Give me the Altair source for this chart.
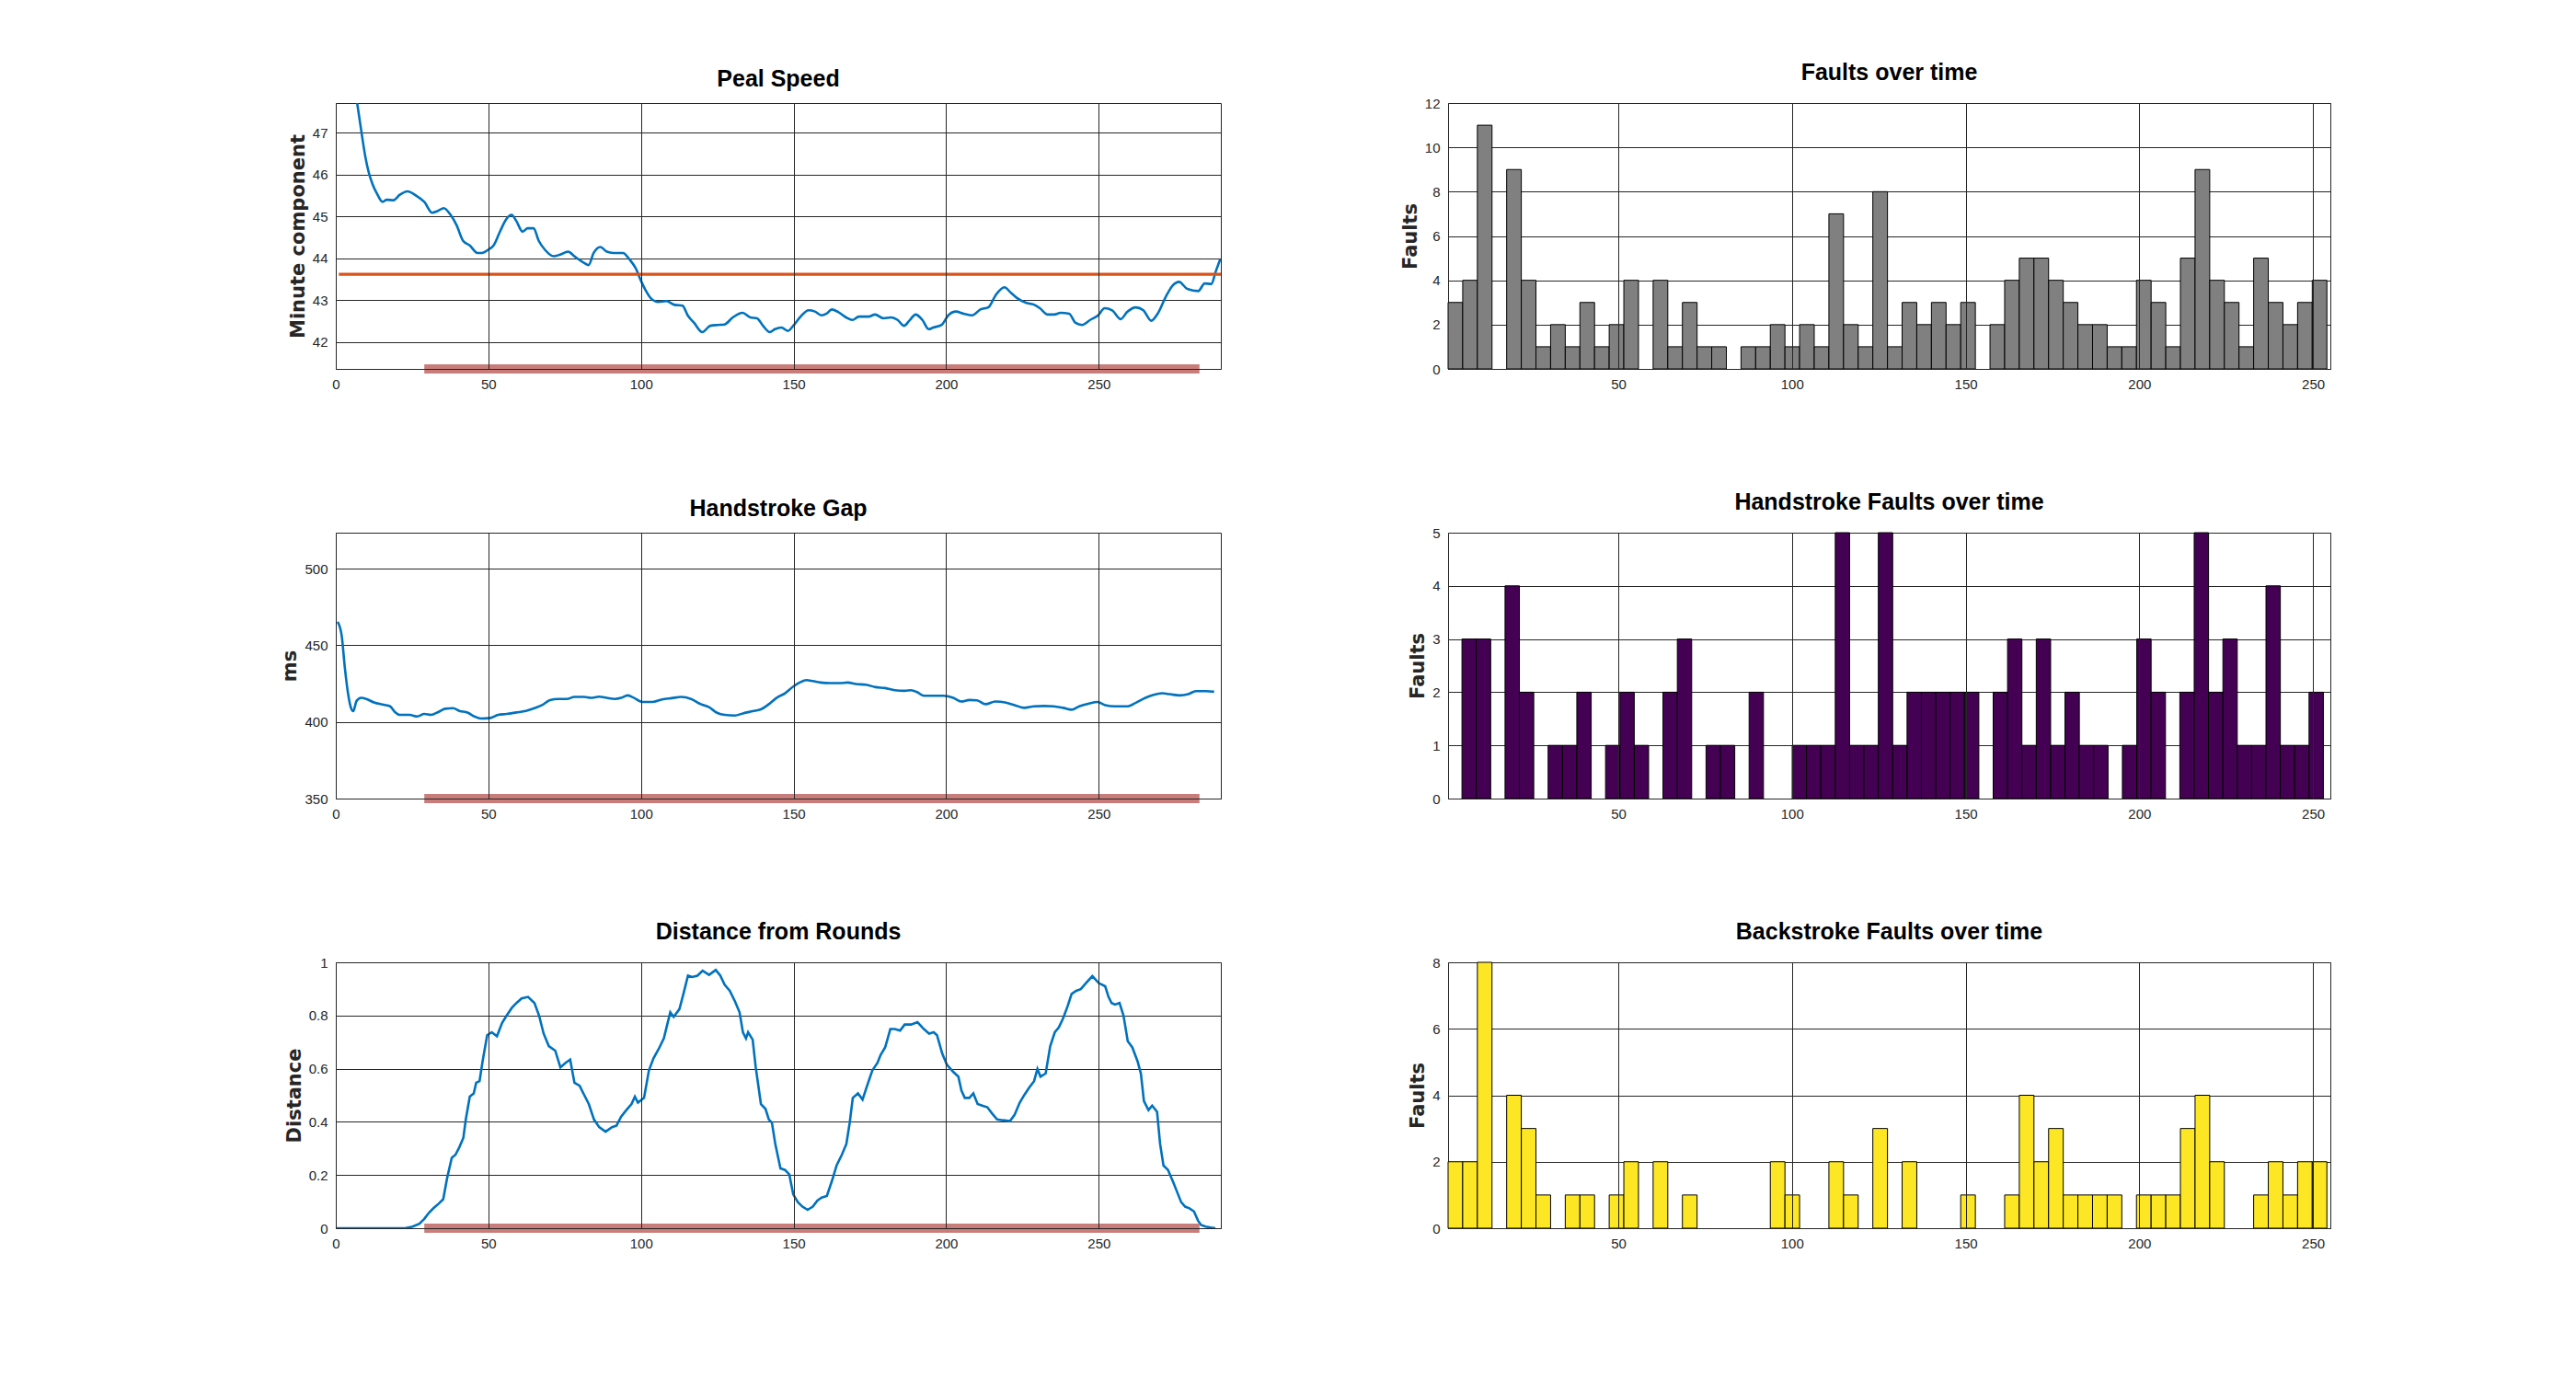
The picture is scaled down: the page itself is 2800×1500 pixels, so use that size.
import altair as alt
import pandas as pd

# ---------------- data ----------------
# Peal speed (minute component)
PEAL_X = [7, 8.3, 9.7, 10.8, 12.1, 13.6, 15.3, 16.7, 18.9, 21, 23.5, 26.3, 29, 31.6, 33.3, 35.4,
          37.5, 39.6, 41.7, 43.9, 46.4, 47.9, 50, 51.7, 53.8, 55.9, 57.6, 59.1, 61.2, 62.9, 64.8,
          66.5, 68.6, 71.4, 73.5, 76.1, 78.2, 81.4, 82.8, 84.5, 86.7, 88.8, 90.9, 94.1, 96.2, 98.3,
          99.8, 101.5, 103.2, 105.7, 108.3, 111, 113.6, 115.3, 117.4, 120.1, 122.7, 125.2, 127.3,
          130.1, 133.3, 135.8, 138, 140, 142.2, 143.9, 146, 148.1, 150.2, 152.3, 154.9, 157, 159.1,
          160.8, 162.5, 164.6, 167.2, 169.3, 171.4, 174.6, 176.7, 179.4, 182, 184.1, 186.2, 187.9,
          190, 192.2, 194.3, 195.8, 198.5, 200.7, 203.2, 205.7, 208.5, 211.2, 213.8, 216.3, 219.1,
          221.2, 223.3, 226.1, 228.6, 230.7, 233.3, 235.4, 237.5, 240.3, 242.4, 244.5, 247.2, 249.8,
          251.9, 254.4, 257.2, 259.3, 262.1, 264.6, 267.2, 269.3, 272, 274.2, 276.3, 279, 282.6,
          284.7, 286.9, 288.3, 289.8]
PEAL_Y = [47.71, 47.07, 46.42, 46.05, 45.76, 45.53, 45.35, 45.40, 45.39, 45.52, 45.60, 45.50, 45.35,
          45.09, 45.13, 45.20, 45.05, 44.79, 44.42, 44.31, 44.13, 44.13, 44.21, 44.31, 44.64, 44.94,
          45.04, 44.90, 44.64, 44.72, 44.72, 44.42, 44.20, 44.05, 44.09, 44.16, 44.05, 43.89, 43.84,
          44.13, 44.27, 44.16, 44.13, 44.13, 43.98, 43.76, 43.50, 43.24, 43.05, 42.96, 42.98, 42.89,
          42.87, 42.64, 42.46, 42.24, 42.39, 42.41, 42.42, 42.59, 42.70, 42.59, 42.57, 42.39, 42.24,
          42.31, 42.35, 42.27, 42.42, 42.61, 42.76, 42.73, 42.64, 42.68, 42.78, 42.72, 42.59, 42.53,
          42.61, 42.61, 42.66, 42.57, 42.59, 42.53, 42.39, 42.51, 42.66, 42.53, 42.31, 42.35, 42.41,
          42.64, 42.73, 42.68, 42.64, 42.78, 42.83, 43.13, 43.31, 43.18, 43.05, 42.94, 42.90, 42.81,
          42.66, 42.66, 42.70, 42.68, 42.46, 42.41, 42.53, 42.64, 42.81, 42.76, 42.55, 42.72, 42.83,
          42.76, 42.51, 42.68, 43.09, 43.35, 43.44, 43.27, 43.22, 43.40, 43.39, 43.68, 43.98]
PEAL_MEAN = 43.62
MEAN_X = [1, 290]
PEAL_YDOMAIN = [41.36, 47.71]
PEAL_YTICKS = [42, 43, 44, 45, 46, 47]

# Handstroke gap (ms)
HG_X = [0.6, 1.9, 3, 4, 4.9, 5.7, 6.8, 8.3, 10, 12.5, 15.7, 17.8, 19.3, 21, 24.2, 26.7, 29, 31.2,
        33.7, 35.8, 38.4, 40.5, 43.3, 45.4, 47.5, 50.7, 53.2, 56, 59.2, 62.3, 65.1, 67.6, 70.2,
        72.9, 75.7, 78.2, 81.4, 83.5, 86.3, 88.8, 91.4, 93.5, 95.6, 97.3, 100.5, 103.7, 106.9, 110,
        113.2, 116.4, 119.6, 122.3, 124.9, 127.4, 130.8, 133.4, 136.6, 139.3, 141.9, 144.4, 147.2,
        149.9, 152, 154.2, 156.3, 158.8, 162, 165.2, 167.7, 170.5, 173.7, 176.8, 180, 183.2, 186.4,
        188.5, 190.6, 192.7, 195.9, 199.1, 202.3, 205, 207.6, 210.1, 212.9, 216.1, 219.3, 222.4,
        225.6, 228.8, 232, 235.2, 238.3, 241.1, 243.6, 246.8, 249.6, 252.1, 255.3, 259.5, 262.3,
        265.3, 268, 270.8, 273.3, 276.5, 279.3, 281.8, 285, 287.8]
HG_Y = [465.3, 456.8, 434.7, 418.7, 409.6, 407.0, 413.7, 415.7, 415.0, 412.7, 411.2, 410.2, 406.6,
        404.6, 404.6, 403.6, 405.2, 404.6, 406.6, 408.6, 409.0, 407.2, 406.0, 403.6, 402.2, 402.6,
        404.6, 405.2, 406.2, 407.2, 409.0, 411.0, 414.3, 415.0, 415.0, 416.3, 416.3, 415.7, 416.5,
        415.7, 415.0, 415.7, 417.3, 416.1, 413.0, 413.0, 414.7, 415.5, 416.3, 415.0, 411.6, 409.6,
        406.0, 404.6, 404.2, 405.6, 407.0, 408.2, 411.6, 415.7, 418.7, 423.1, 425.7, 427.3, 426.7,
        425.7, 425.3, 425.3, 425.7, 424.7, 424.3, 422.7, 422.1, 420.7, 420.3, 420.7, 419.3, 417.1,
        417.1, 417.1, 415.7, 413.3, 414.3, 414.1, 411.6, 413.3, 412.7, 411.0, 409.2, 410.2, 410.4,
        410.2, 409.2, 408.0, 410.2, 412.0, 413.0, 411.0, 410.2, 410.2, 412.7, 415.7, 417.7, 418.7,
        418.1, 417.3, 418.1, 420.1, 420.1, 419.7]
HG_YDOMAIN = [350, 523.5]
HG_YTICKS = [350, 400, 450, 500]

# Distance from rounds
DR_X = [0, 22.7, 25.2, 27.4, 29, 30.5, 32, 33.7, 35.2, 36.5, 38, 39.2, 40.5, 41.8, 42.6, 43.9, 45.2,
        46, 47.1, 48.1, 49.6, 51.1, 52.8, 54.5, 56, 57.7, 59.2, 60.9, 63, 65.1, 66.6, 68.1, 69.8,
        71.9, 73.6, 75.3, 76.8, 78.2, 79.9, 81.4, 82.9, 84.6, 86.3, 88.4, 90.5, 92, 93.5, 95.2,
        96.9, 98, 99, 101, 102.6, 104.1, 105.8, 107.5, 108.6, 109.6, 110.7, 112.6, 113.9, 115.4,
        116.8, 118.5, 120.2, 122.3, 124.5, 126, 127.4, 129.1, 130.8, 132.3, 133.4, 134.4, 135.1,
        136.6, 137.6, 139.3, 140.8, 141.9, 142.9, 144, 145.7, 147.2, 148.6, 149.9, 151.4, 152.9,
        154.6, 156.3, 157.8, 159.2, 160.9, 162.6, 164.1, 165.8, 167.3, 168.4, 169.4, 171.1, 172.6,
        174.1, 175.8, 177.5, 178.5, 180, 181.7, 183.2, 184.9, 186.4, 188.5, 190.6, 192.7, 194.4,
        195.9, 197, 198.7, 200.2, 202.3, 204, 205, 206.1, 207.6, 208.9, 210.3, 211.8, 213.5, 215,
        216.7, 218.6, 220.9, 222.4, 224.1, 225.6, 227.3, 228.8, 229.9, 230.9, 232.6, 234.1, 235.6,
        236.9, 238.3, 239.8, 241.1, 242.6, 244.1, 245.8, 247.9, 250, 252.1, 253.2, 254.2, 255.3,
        256.8, 258.1, 259.5, 261, 262.7, 263.8, 264.8, 266.3, 267.5, 269.1, 270.1, 271.2, 272.7,
        274.4, 275.4, 277, 278.3, 279.7, 281.2, 282.5, 283.5, 285, 287.1, 288.2]
DR_Y = [0, 0, 0.006, 0.017, 0.035, 0.058, 0.075, 0.092, 0.109, 0.19, 0.265, 0.276, 0.305, 0.34,
        0.409, 0.495, 0.507, 0.547, 0.553, 0.628, 0.726, 0.737, 0.722, 0.772, 0.8, 0.829, 0.847,
        0.864, 0.87, 0.847, 0.8, 0.732, 0.685, 0.668, 0.605, 0.622, 0.634, 0.547, 0.536, 0.501,
        0.467, 0.409, 0.38, 0.363, 0.38, 0.386, 0.42, 0.444, 0.467, 0.495, 0.472, 0.49, 0.593,
        0.639, 0.674, 0.714, 0.766, 0.812, 0.795, 0.824, 0.881, 0.95, 0.945, 0.95, 0.968, 0.953,
        0.971, 0.95, 0.916, 0.893, 0.853, 0.812, 0.737, 0.714, 0.737, 0.709, 0.605, 0.467, 0.449,
        0.409, 0.397, 0.317, 0.225, 0.219, 0.202, 0.127, 0.098, 0.081, 0.069, 0.081, 0.104, 0.115,
        0.121, 0.179, 0.236, 0.276, 0.317, 0.397, 0.49, 0.507, 0.484, 0.536, 0.593, 0.622, 0.651,
        0.68, 0.749, 0.749, 0.743, 0.766, 0.766, 0.775, 0.749, 0.732, 0.737, 0.726, 0.657, 0.616,
        0.588, 0.57, 0.518, 0.49, 0.49, 0.507, 0.467, 0.461, 0.455, 0.432, 0.409, 0.406, 0.403,
        0.426, 0.472, 0.501, 0.53, 0.553, 0.599, 0.57, 0.582, 0.685, 0.737, 0.755, 0.789, 0.835,
        0.881, 0.893, 0.899, 0.922, 0.948, 0.922, 0.91, 0.87, 0.847, 0.841, 0.847, 0.8, 0.703,
        0.68, 0.628, 0.582, 0.478, 0.444, 0.461, 0.438, 0.317, 0.236, 0.219, 0.173, 0.144, 0.098,
        0.081, 0.075, 0.063, 0.029, 0.012, 0.006, 0.002, 0]
DR_YDOMAIN = [0, 1]
DR_YTICKS = [0, 0.2, 0.4, 0.6, 0.8, 1]

LINE_XDOMAIN = [0, 290]
LINE_XTICKS = [0, 50, 100, 150, 200, 250]
ROUNDS_START = 29
ROUNDS_END = 283

# Fault histograms (60 bins each)
HIST_XDOMAIN = [1, 255]
HIST_XTICKS = [50, 100, 150, 200, 250]
N_BINS = 60
FAULTS_RANGE = [1, 254]
FAULTS = [3, 4, 11, 0, 9, 4, 1, 2, 1, 3, 1, 2, 4, 0, 4, 1, 3, 1, 1, 0,
          1, 1, 2, 1, 2, 1, 7, 2, 1, 8, 1, 3, 2, 3, 2, 3, 0, 2, 4, 5,
          5, 4, 3, 2, 2, 1, 1, 4, 3, 1, 5, 9, 4, 3, 1, 5, 3, 2, 3, 4]
FAULTS_YTICKS = [0, 2, 4, 6, 8, 10, 12]
HAND_RANGE = [5, 253]
HAND = [3, 3, 0, 4, 2, 0, 1, 1, 2, 0, 1, 2, 1, 0, 2, 3, 0, 1, 1, 0,
        2, 0, 0, 1, 1, 1, 5, 1, 1, 5, 1, 2, 2, 2, 2, 2, 0, 2, 3, 1,
        3, 1, 2, 1, 1, 0, 1, 3, 2, 0, 2, 5, 2, 3, 1, 1, 4, 1, 1, 2]
HAND_YTICKS = [0, 1, 2, 3, 4, 5]
BACK_RANGE = [1, 254]
BACK = [2, 2, 8, 0, 4, 3, 1, 0, 1, 1, 0, 1, 2, 0, 2, 0, 1, 0, 0, 0,
        0, 0, 2, 1, 0, 0, 2, 1, 0, 3, 0, 2, 0, 0, 0, 1, 0, 0, 1, 4,
        2, 3, 1, 1, 1, 1, 0, 1, 1, 1, 3, 4, 2, 0, 0, 1, 2, 1, 2, 2]
BACK_YTICKS = [0, 2, 4, 6, 8]

# ---------------- styling ----------------
W_LEFT, W_RIGHT, H = 962, 959, 289
DARK = "#262626"
BLUE = "#0072bd"
ORANGE = "#d95319"
PINK = "#c97d7a"
TICK_FONT = "Liberation Sans"
YT_FONT = "DejaVu Sans"


def x_axis(ticks):
    return alt.Axis(values=ticks, grid=True, gridColor=DARK, gridWidth=1, gridOpacity=1,
                    ticks=False, domain=True, domainColor=DARK, domainWidth=1, zindex=1,
                    labelFont=TICK_FONT, labelFontSize=15, labelColor=DARK, labelPadding=9,
                    labelFlush=False, title=None)


def y_axis(ticks, title, fmt=None):
    kw = dict(values=ticks, grid=True, gridColor=DARK, gridWidth=1, gridOpacity=1,
              ticks=False, domain=False, labelFont=TICK_FONT, labelFontSize=15,
              labelColor=DARK, labelPadding=9, title=title, titleFont=YT_FONT,
              titleFontSize=21, titleFontWeight="bold", titleColor=DARK, titlePadding=5)
    if fmt:
        kw["format"] = fmt
    return alt.Axis(**kw)


def panel_title(text):
    return alt.TitleParams(text=text, font="Liberation Sans", fontSize=25, fontWeight="bold",
                           color="black", anchor="middle", baseline="alphabetic", offset=-7,
                           frame="group")


def line_panel(xs, ys, title, ytitle, ydomain, yticks, interp, mean=None, fmt=None):
    df = pd.DataFrame({"x": xs, "y": ys})
    xs_ = alt.Scale(domain=LINE_XDOMAIN, nice=False, zero=False)
    ys_ = alt.Scale(domain=ydomain, nice=False, zero=False)
    line = alt.Chart(df).mark_line(color=BLUE, strokeWidth=2.6, clip=True,
                                   interpolate=interp).encode(
        x=alt.X("x:Q", scale=xs_, axis=x_axis(LINE_XTICKS)),
        y=alt.Y("y:Q", scale=ys_, axis=y_axis(yticks, ytitle, fmt)),
    )
    rounds = alt.Chart(pd.DataFrame({"x": [ROUNDS_START], "x2": [ROUNDS_END],
                                     "y": [ydomain[0]]})).mark_rule(
        color=PINK, strokeWidth=10, strokeCap="butt").encode(
        x=alt.X("x:Q", scale=xs_), x2="x2:Q", y=alt.Y("y:Q", scale=ys_))
    layers = [line]
    if mean is not None:
        mline = alt.Chart(pd.DataFrame({"x": [MEAN_X[0]], "x2": [MEAN_X[1]],
                                        "y": [mean]})).mark_rule(
            color=ORANGE, strokeWidth=3.2).encode(
            x=alt.X("x:Q", scale=xs_), x2="x2:Q", y=alt.Y("y:Q", scale=ys_))
        layers.append(mline)
    layers.append(rounds)
    return alt.layer(*layers).properties(width=W_LEFT, height=H, title=panel_title(title))


def hist_panel(counts, rng, color, title, yticks):
    step = (rng[1] - rng[0]) / N_BINS
    df = pd.DataFrame({
        "b0": [rng[0] + i * step for i in range(N_BINS)],
        "b1": [rng[0] + (i + 1) * step for i in range(N_BINS)],
        "n": counts,
    })
    df = df[df["n"] > 0]
    return alt.Chart(df).mark_rect(fill=color, stroke="black", strokeWidth=1).encode(
        x=alt.X("b0:Q", scale=alt.Scale(domain=HIST_XDOMAIN, nice=False, zero=False),
                axis=x_axis(HIST_XTICKS)),
        x2="b1:Q",
        y=alt.Y("n:Q", scale=alt.Scale(domain=[0, yticks[-1]], nice=False),
                axis=y_axis(yticks, "Faults")),
        y2=alt.datum(0),
    ).properties(width=W_RIGHT, height=H, title=panel_title(title))


panels = [
    line_panel(PEAL_X, PEAL_Y, "Peal Speed", "Minute component", PEAL_YDOMAIN, PEAL_YTICKS,
               "monotone", mean=PEAL_MEAN),
    hist_panel(FAULTS, FAULTS_RANGE, "#808080", "Faults over time", FAULTS_YTICKS),
    line_panel(HG_X, HG_Y, "Handstroke Gap", "ms", HG_YDOMAIN, HG_YTICKS, "monotone"),
    hist_panel(HAND, HAND_RANGE, "#440154", "Handstroke Faults over time", HAND_YTICKS),
    line_panel(DR_X, DR_Y, "Distance from Rounds", "Distance", DR_YDOMAIN, DR_YTICKS,
               "linear", fmt="~g"),
    hist_panel(BACK, BACK_RANGE, "#fde725", "Backstroke Faults over time", BACK_YTICKS),
]

chart = alt.concat(*panels, columns=2, bounds="flush",
                   spacing={"row": 178, "column": 247}).properties(
    padding={"left": 296, "top": 58, "right": 5, "bottom": 5},
    background="white",
).configure_view(stroke=DARK, strokeWidth=1)

chart.save("out.html", embed_options={"renderer": "svg", "actions": False})
